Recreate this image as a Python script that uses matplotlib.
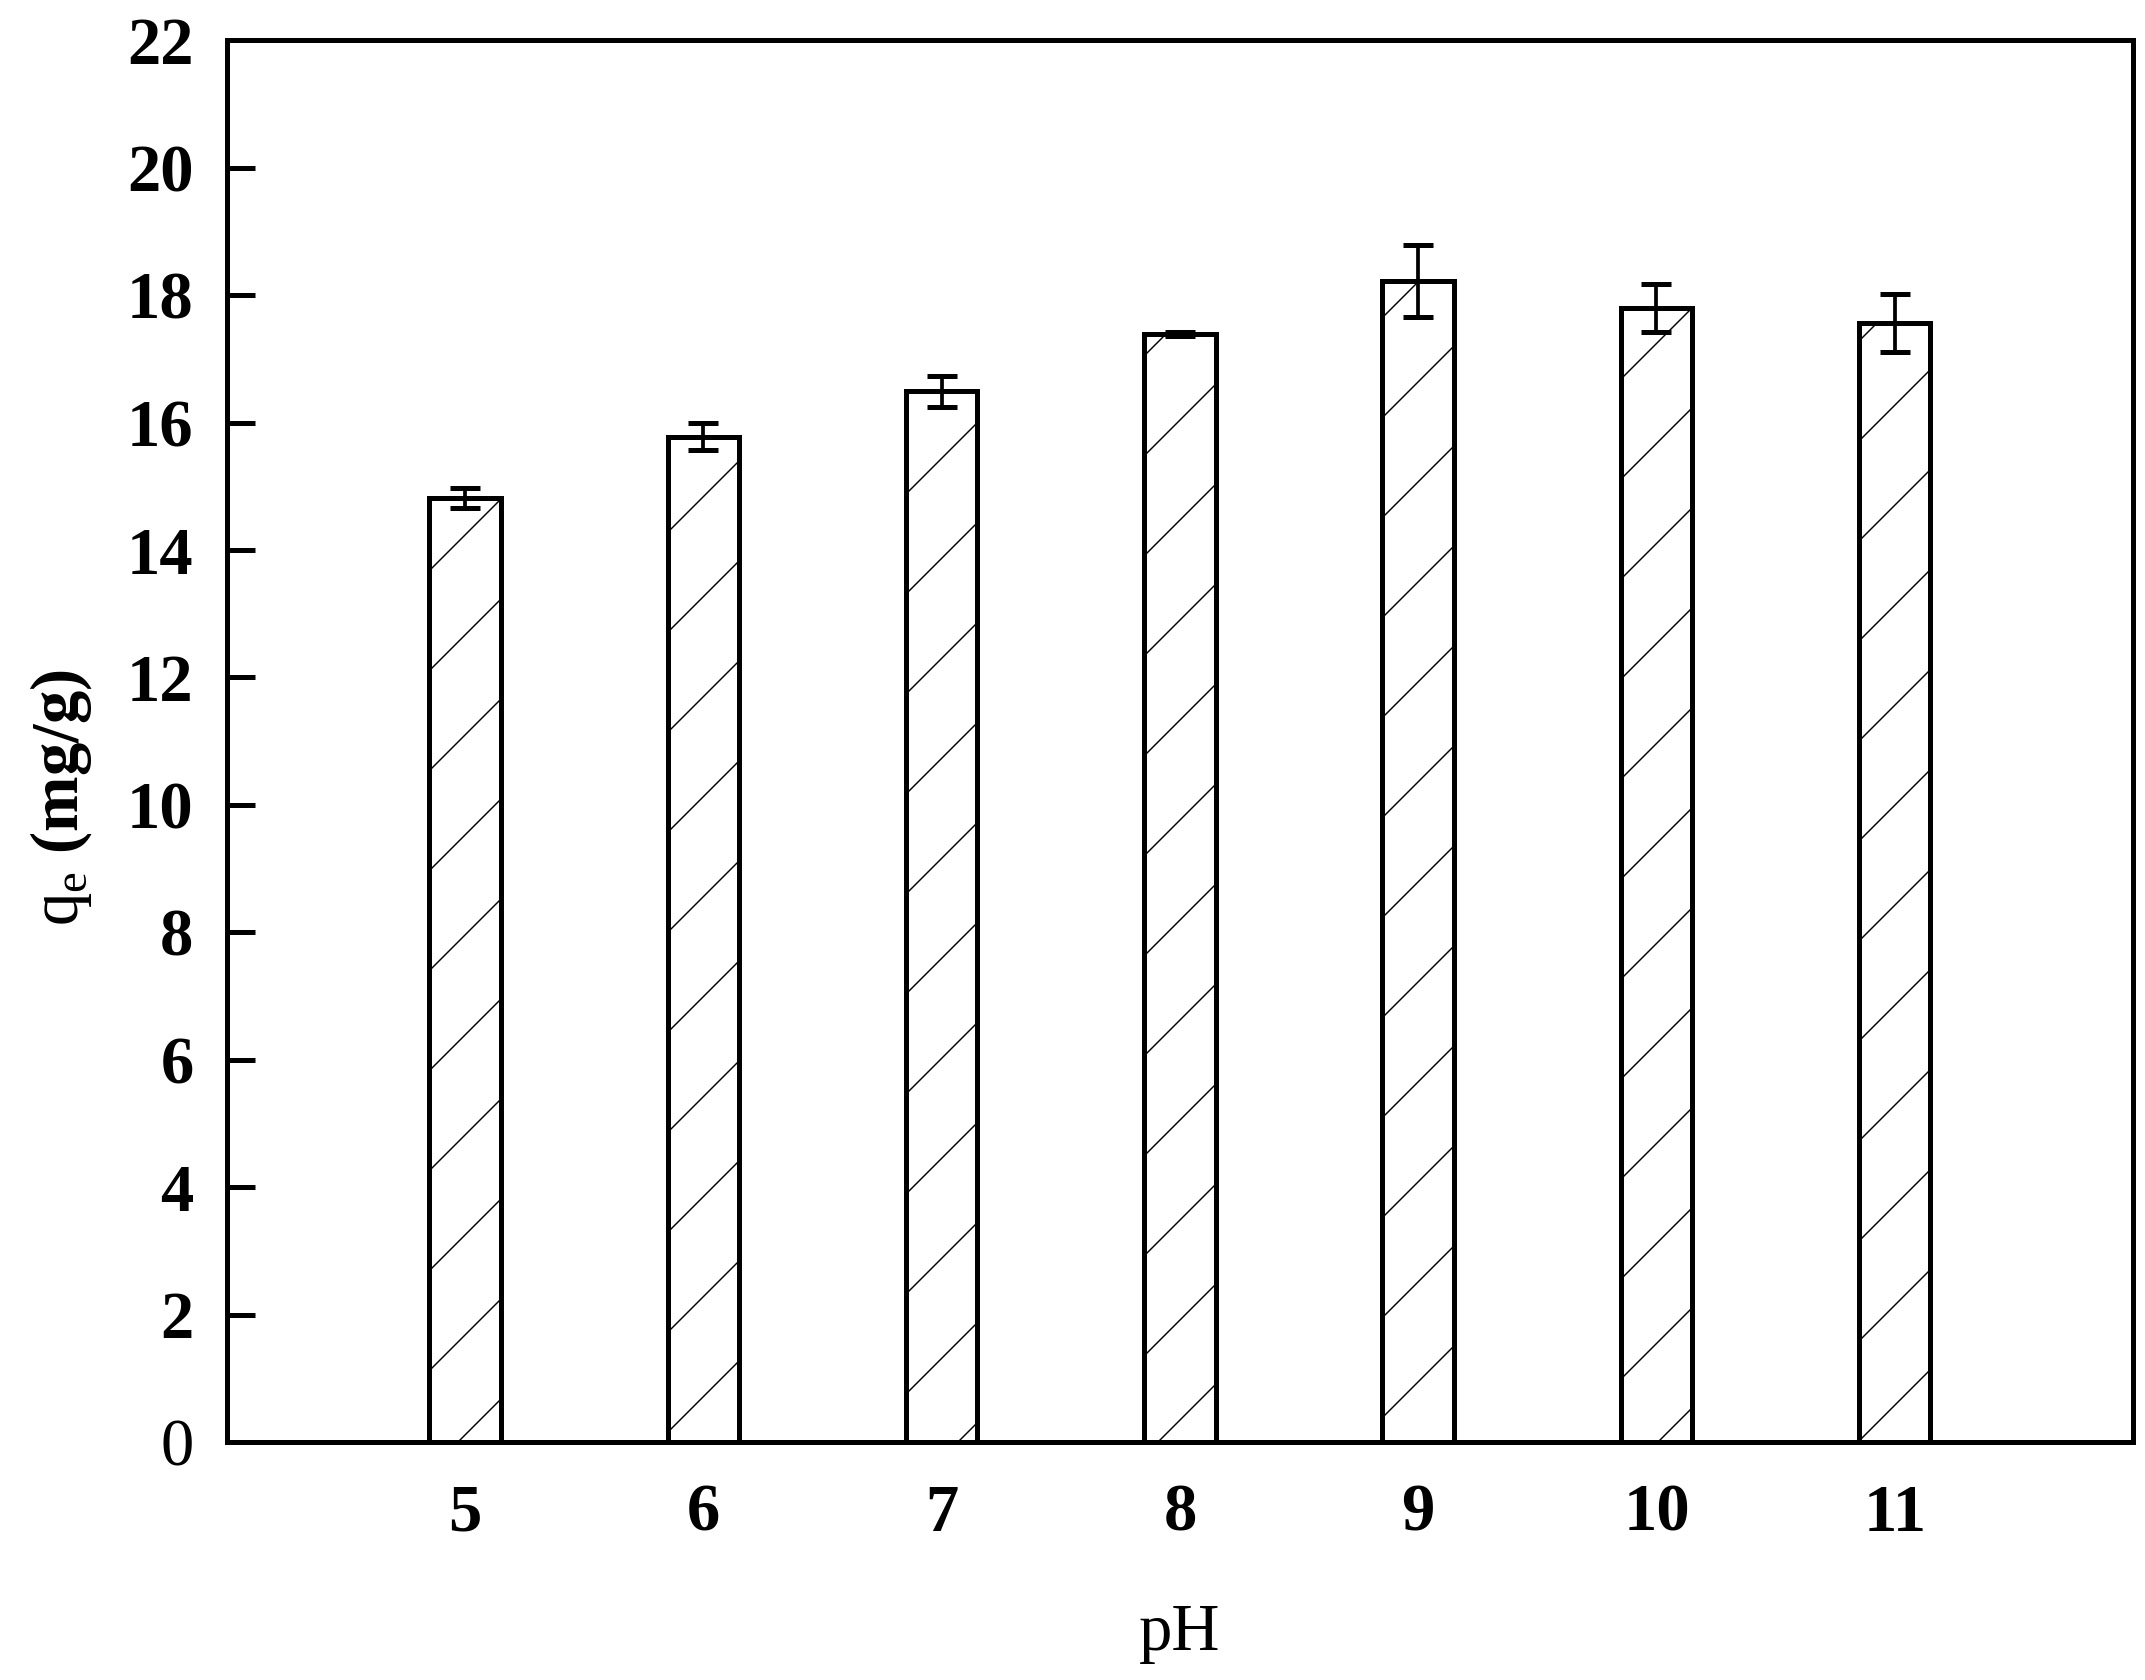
import matplotlib
matplotlib.use('Agg')
import matplotlib.pyplot as plt

plt.rcParams['font.family'] = ['Liberation Serif', 'DejaVu Serif']
plt.rcParams['mathtext.fontset'] = 'custom'
plt.rcParams['mathtext.rm'] = 'Liberation Serif'
plt.rcParams['mathtext.bf'] = 'Liberation Serif:bold'
plt.rcParams['hatch.linewidth'] = 0.35

ph = [5, 6, 7, 8, 9, 10, 11]
qe = [14.82, 15.78, 16.49, 17.39, 18.22, 17.80, 17.56]
qe_err = [0.16, 0.21, 0.24, 0.03, 0.57, 0.375, 0.46]
y_ticks = [0, 2, 4, 6, 8, 10, 12, 14, 16, 18, 20, 22]

fig = plt.figure(figsize=(7.15, 5.6), dpi=300)
ax = fig.add_axes([0.1058, 0.1417, 0.8886, 0.8343])

ax.bar(ph, qe, width=0.3, color='white', edgecolor='black', linewidth=1.2,
       hatch='/', zorder=2)
ax.errorbar(ph, qe, yerr=qe_err, fmt='none', ecolor='black', elinewidth=0.9,
            capsize=3.6, capthick=1.2, zorder=3)

ax.set_xlim(4, 12)
ax.set_ylim(0, 22)
ax.set_xticks(ph)
ax.set_yticks(y_ticks)

for s in ax.spines.values():
    s.set_linewidth(1.2)

ax.tick_params(axis='y', direction='in', length=6.7, width=1.2, pad=8,
               labelsize=16)
ax.tick_params(axis='x', length=0, pad=10, labelsize=16)
for lab in ax.get_xticklabels() + ax.get_yticklabels():
    lab.set_fontweight('bold')
ax.get_yticklabels()[0].set_fontweight('normal')

ax.set_xlabel('pH', fontsize=16, labelpad=14)
ax.set_ylabel(r'$\mathregular{q_e}$ $\mathbf{(mg/g)}$', fontsize=16)
ax.yaxis.set_label_coords(-0.07, 0.46)

fig.savefig('out.png', dpi=300)
